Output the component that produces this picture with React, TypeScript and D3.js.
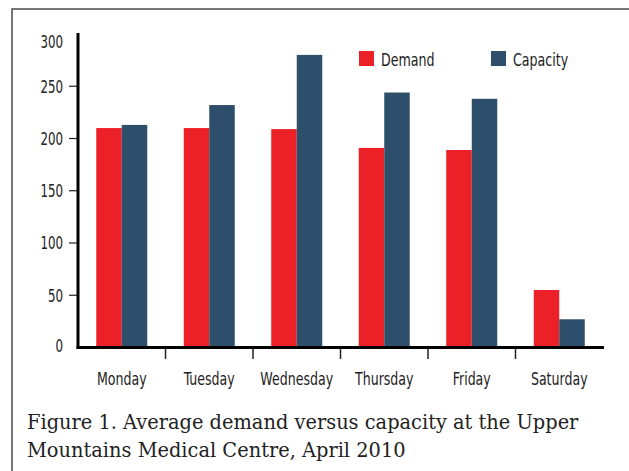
import React, { useEffect, useRef } from 'react';
import * as d3 from 'd3';

const days = ['Monday', 'Tuesday', 'Wednesday', 'Thursday', 'Friday', 'Saturday'];
const demand = [210, 210, 209, 191, 189, 55];
const capacity = [213, 232, 280, 244, 238, 27];
const yTicks = [0, 50, 100, 150, 200, 250, 300];
const seriesNames = ['Demand', 'Capacity'];
const captionLines = [
  'Figure 1. Average demand versus capacity at the Upper',
  'Mountains Medical Centre, April 2010',
];

const App: React.FC = () => {
  const svgRef = useRef<SVGSVGElement | null>(null);

  useEffect(() => {
    const svg = d3.select(svgRef.current);
    svg.selectAll('*').remove();

    const width = 629;
    const height = 471;
    const colors = ['#ec2027', '#2e4f6b'];
    const narrow = "'DejaVu Sans Condensed', 'DejaVu Sans', sans-serif";

    svg.attr('width', width).attr('height', height);

    // condensed text: the original face is narrower than anything installed
    const label = (
      parent: d3.Selection<any, unknown, null, undefined>,
      tx: number,
      ty: number,
      str: string,
      anchor: string,
      size: number,
      sx: number
    ) =>
      parent
        .append('text')
        .attr('transform', `translate(${tx},${ty}) scale(${sx},1)`)
        .attr('text-anchor', anchor)
        .attr('font-family', narrow)
        .attr('font-size', size)
        .attr('fill', '#222')
        .text(str);

    // frame, cut off at right and bottom
    svg
      .append('rect')
      .attr('x', 12)
      .attr('y', 9)
      .attr('width', 700)
      .attr('height', 600)
      .attr('fill', 'white')
      .attr('stroke', '#4a4a4a')
      .attr('stroke-width', 1.5);

    const x = d3.scaleBand<string>().domain(days).range([78, 603]).padding(0);
    const y = d3.scaleLinear().domain([0, 300]).range([347.5, 34]);
    const groupW = 51;
    const inner = d3.scaleBand<string>().domain(seriesNames).range([0, groupW]);

    const g = svg.append('g');

    days.forEach((day, i) => {
      const gx = x(day)! + x.bandwidth() / 2 - groupW / 2;
      [demand[i], capacity[i]].forEach((v, j) => {
        g.append('rect')
          .attr('x', gx + inner(seriesNames[j])!)
          .attr('y', y(v))
          .attr('width', inner.bandwidth())
          .attr('height', y(0) - y(v))
          .attr('fill', colors[j]);
      });
      label(g, x(day)! + x.bandwidth() / 2, 385, day, 'middle', 17.5, 0.8);
    });

    // category boundary ticks
    days.slice(1).forEach((day) => {
      g.append('line')
        .attr('x1', x(day)!)
        .attr('x2', x(day)!)
        .attr('y1', y(0))
        .attr('y2', 359)
        .attr('stroke', '#222')
        .attr('stroke-width', 1.5);
    });

    // y ticks (top label sits a little below the axis end)
    yTicks.forEach((t) => {
      if (t > 0 && t < 300) {
        g.append('line')
          .attr('x1', 69)
          .attr('x2', 78)
          .attr('y1', y(t))
          .attr('y2', y(t))
          .attr('stroke', '#222')
          .attr('stroke-width', 1.2);
      }
      const nudge = t === 300 ? 7.5 : t === 0 ? -1.5 : 0;
      label(g, 63, y(t) + 6.3 + nudge, String(t), 'end', 17.5, 0.75);
    });

    // axes
    g.append('line')
      .attr('x1', 78)
      .attr('x2', 78)
      .attr('y1', 33)
      .attr('y2', y(0) + 1.5)
      .attr('stroke', '#000')
      .attr('stroke-width', 3);
    g.append('line')
      .attr('x1', 76.5)
      .attr('x2', 604)
      .attr('y1', y(0))
      .attr('y2', y(0))
      .attr('stroke', '#000')
      .attr('stroke-width', 3);

    // legend
    const legendX = [359, 491];
    seriesNames.forEach((name, j) => {
      g.append('rect')
        .attr('x', legendX[j])
        .attr('y', 51)
        .attr('width', 15)
        .attr('height', 15)
        .attr('fill', colors[j]);
      label(g, legendX[j] + 22, 65.5, name, 'start', 18, 0.78);
    });

    // caption
    captionLines.forEach((line, i) => {
      svg
        .append('text')
        .attr('transform', `translate(27,${429 + i * 28}) scale(0.97,1)`)
        .attr('font-family', "'DejaVu Serif', serif")
        .attr('font-size', 20)
        .attr('fill', '#222')
        .text(line);
    });
  }, []);

  return (
    <svg
      ref={svgRef}
      style={{ position: 'absolute', left: 0, top: 0, display: 'block' }}
    ></svg>
  );
};

export default App;
